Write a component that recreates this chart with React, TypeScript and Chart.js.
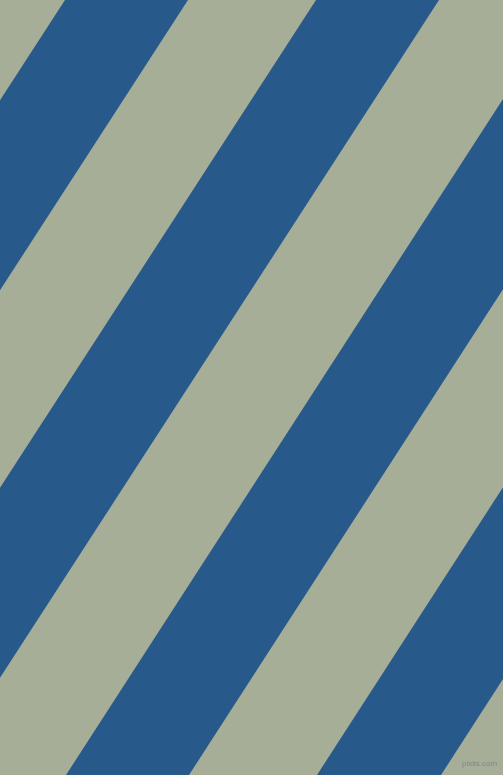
import React, { useRef, useEffect } from 'react';
import { Chart } from 'chart.js/auto';

// blue stripes, x where each edge meets the top (y = 0) and bottom (y = 775) of the picture
const topStarts = [65, 316, 567, 818];
const topEnds = [188, 439, 690, 941];
const bottomStarts = [-437, -186, 66, 317];
const bottomEnds = [-314, -63, 189, 441];

const xRange = [0, 503];
const yRange = [0, 775];

const BLUE = '#27598b';
const SAGE = '#a7ae98';

const App: React.FC = () => {
    const chartRef = useRef<HTMLCanvasElement>(null);
    const chartInstance = useRef<Chart | null>(null);

    useEffect(() => {
        if (chartInstance.current) {
            chartInstance.current.destroy();
        }

        const ctx = chartRef.current?.getContext('2d');
        if (ctx) {
            const datasets = topStarts.map((start, i) => ({
                label: 'stripe ' + (i + 1),
                data: [
                    { x: start, y: yRange[0] },
                    { x: topEnds[i], y: yRange[0] },
                    { x: bottomEnds[i], y: yRange[1] },
                    { x: bottomStarts[i], y: yRange[1] },
                ],
                fill: 'shape' as const,
                backgroundColor: BLUE,
                borderColor: BLUE,
                borderWidth: 0,
                pointRadius: 0,
                tension: 0,
            }));

            chartInstance.current = new Chart(ctx, {
                type: 'line',
                data: { datasets },
                options: {
                    responsive: false,
                    animation: false,
                    layout: { padding: 0 },
                    plugins: {
                        legend: { display: false },
                        tooltip: { enabled: false },
                    },
                    scales: {
                        x: { type: 'linear', min: xRange[0], max: xRange[1], display: false },
                        y: { type: 'linear', min: yRange[0], max: yRange[1], reverse: true, display: false },
                    },
                },
            });
        }

        return () => {
            chartInstance.current?.destroy();
        };
    }, []);

    return (
        <div style={{ position: 'absolute', left: 0, top: 0, width: 503, height: 775, overflow: 'hidden' }}>
            <canvas ref={chartRef} width={503} height={775} style={{ display: 'block', background: SAGE }}></canvas>
            <span
                style={{
                    position: 'absolute',
                    left: 462,
                    top: 759,
                    whiteSpace: 'nowrap',
                    fontFamily: '"Liberation Sans", sans-serif',
                    fontSize: 8,
                    lineHeight: '10px',
                    color: '#7d8886',
                }}
            >
                pixlis.com
            </span>
        </div>
    );
};

export default App;
